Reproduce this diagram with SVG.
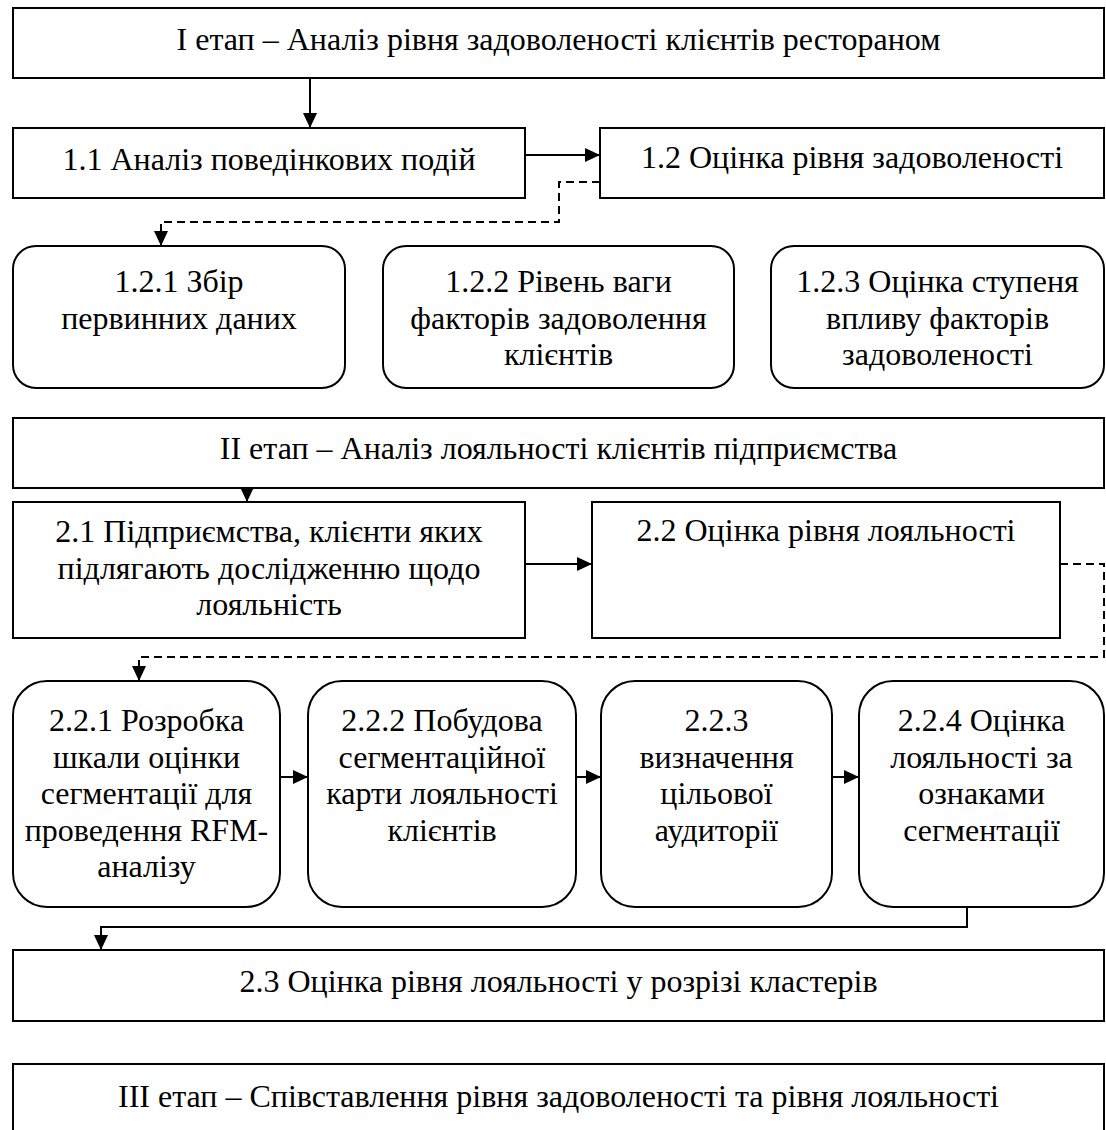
<svg xmlns="http://www.w3.org/2000/svg" width="1106" height="1130" viewBox="0 0 1106 1130">
<style>
.box{fill:#fff;stroke:#000;stroke-width:2}
.t{font-family:"Liberation Serif","Times New Roman",serif;font-size:32px;fill:#000;text-anchor:middle}
.c{fill:none;stroke:#000;stroke-width:2}
.d{fill:none;stroke:#000;stroke-width:2;stroke-dasharray:8 5}
</style>
<defs>
<marker id="ah" markerWidth="15" markerHeight="14" refX="15" refY="7" orient="auto" markerUnits="userSpaceOnUse">
<path d="M0,0 L15,7 L0,14 Z" fill="#000"/>
</marker>
</defs>
<rect width="1106" height="1130" fill="#fff"/>
<g id="connectors">
<path class="c" d="M310,78 V128" marker-end="url(#ah)"/>
<path class="c" d="M525,155 H600" marker-end="url(#ah)"/>
<path class="d" d="M600,182 H559 V222 H161 V246" marker-end="url(#ah)"/>
<path class="c" d="M247,488 V502" marker-end="url(#ah)"/>
<path class="c" d="M525,564 H592" marker-end="url(#ah)"/>
<path class="d" d="M1060,564 H1104 V657 H139 V681" marker-end="url(#ah)"/>
<path class="c" d="M280,777 H308" marker-end="url(#ah)"/>
<path class="c" d="M576,777 H601" marker-end="url(#ah)"/>
<path class="c" d="M832,777 H859" marker-end="url(#ah)"/>
<path class="c" d="M967,907 V927 H101 V950" marker-end="url(#ah)"/>
</g>
<g id="stage1">
<rect class="box" x="13" y="8" width="1091" height="70"/>
<text class="t" x="558.5" y="50">I етап – Аналіз рівня задоволеності клієнтів рестораном</text>
</g>
<g id="n11">
<rect class="box" x="13" y="128" width="512" height="70"/>
<text class="t" x="269" y="170">1.1 Аналіз поведінкових подій</text>
</g>
<g id="n12">
<rect class="box" x="600" y="128" width="504" height="70"/>
<text class="t" x="852" y="168">1.2 Оцінка рівня задоволеності</text>
</g>
<g id="n121">
<rect class="box" x="13" y="246" width="332" height="142" rx="23"/>
<text class="t" x="179" y="292">1.2.1 Збір</text>
<text class="t" x="179" y="328.5">первинних даних</text>
</g>
<g id="n122">
<rect class="box" x="383" y="246" width="351" height="142" rx="23"/>
<text class="t" x="558.5" y="292">1.2.2 Рівень ваги</text>
<text class="t" x="558.5" y="328.5">факторів задоволення</text>
<text class="t" x="558.5" y="365">клієнтів</text>
</g>
<g id="n123">
<rect class="box" x="771" y="246" width="333" height="142" rx="23"/>
<text class="t" x="937.5" y="292">1.2.3 Оцінка ступеня</text>
<text class="t" x="937.5" y="328.5">впливу факторів</text>
<text class="t" x="937.5" y="365">задоволеності</text>
</g>
<g id="stage2">
<rect class="box" x="13" y="418" width="1091" height="70"/>
<text class="t" x="558.5" y="459">II етап – Аналіз лояльності клієнтів підприємства</text>
</g>
<g id="n21">
<rect class="box" x="13" y="502" width="512" height="136"/>
<text class="t" x="269" y="542">2.1 Підприємства, клієнти яких</text>
<text class="t" x="269" y="578.5">підлягають дослідженню щодо</text>
<text class="t" x="269" y="615">лояльність</text>
</g>
<g id="n22">
<rect class="box" x="592" y="502" width="468" height="136"/>
<text class="t" x="826" y="541">2.2 Оцінка рівня лояльності</text>
</g>
<g id="n221">
<rect class="box" x="13" y="681" width="267" height="226" rx="34"/>
<text class="t" x="146.5" y="731">2.2.1 Розробка</text>
<text class="t" x="146.5" y="767.5">шкали оцінки</text>
<text class="t" x="146.5" y="804">сегментації для</text>
<text class="t" x="146.5" y="840.5">проведення RFM-</text>
<text class="t" x="146.5" y="877">аналізу</text>
</g>
<g id="n222">
<rect class="box" x="308" y="681" width="268" height="226" rx="34"/>
<text class="t" x="442" y="731">2.2.2 Побудова</text>
<text class="t" x="442" y="767.5">сегментаційної</text>
<text class="t" x="442" y="804">карти лояльності</text>
<text class="t" x="442" y="840.5">клієнтів</text>
</g>
<g id="n223">
<rect class="box" x="601" y="681" width="231" height="226" rx="34"/>
<text class="t" x="716.5" y="731">2.2.3</text>
<text class="t" x="716.5" y="767.5">визначення</text>
<text class="t" x="716.5" y="804">цільової</text>
<text class="t" x="716.5" y="840.5">аудиторії</text>
</g>
<g id="n224">
<rect class="box" x="859" y="681" width="245" height="226" rx="34"/>
<text class="t" x="981.5" y="731">2.2.4 Оцінка</text>
<text class="t" x="981.5" y="767.5">лояльності за</text>
<text class="t" x="981.5" y="804">ознаками</text>
<text class="t" x="981.5" y="840.5">сегментації</text>
</g>
<g id="n23">
<rect class="box" x="13" y="950" width="1091" height="71"/>
<text class="t" x="558.5" y="992">2.3 Оцінка рівня лояльності у розрізі кластерів</text>
</g>
<g id="stage3">
<rect class="box" x="13" y="1064" width="1091" height="72"/>
<text class="t" x="558.5" y="1107">III етап – Співставлення рівня задоволеності та рівня лояльності</text>
</g>
</svg>
